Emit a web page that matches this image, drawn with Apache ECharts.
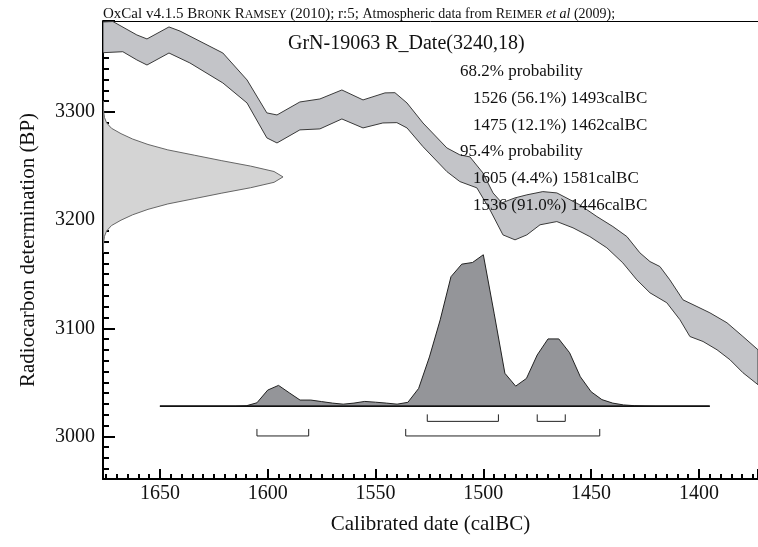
<!DOCTYPE html>
<html>
<head>
<meta charset="utf-8">
<title>GrN-19063 R_Date(3240,18)</title>
<script src="https://cdn.jsdelivr.net/npm/echarts@6.0.0/dist/echarts.min.js"></script>
<style>
html, body { margin: 0; padding: 0; background: #fff; }
#chart { width: 758px; height: 547px; }
</style>
</head>
<body>
<div id="chart"></div>
<script>
// calibration curve band: [calBC, BP]
const curveUpper = [
  [1676.4, 3383.3], [1671.8, 3383.7], [1660.7, 3371.3], [1656.0, 3367.6], [1645.8, 3378.7],
  [1640.7, 3374.9], [1620.8, 3354.6], [1609.6, 3329.7], [1600.4, 3299.2], [1595.7, 3297.3],
  [1585.1, 3309.3], [1575.8, 3312.1], [1565.6, 3320.4], [1555.8, 3311.2], [1545.6, 3317.7],
  [1541.0, 3317.9], [1535.4, 3308.4], [1528.0, 3289.9], [1516.9, 3266.8], [1510.9, 3260.4],
  [1506.2, 3258.5], [1500.2, 3243.7], [1495.5, 3225.2], [1491.4, 3216.0], [1485.3, 3220.6],
  [1479.8, 3223.4], [1472.4, 3226.4], [1465.9, 3225.2], [1455.2, 3214.1], [1447.3, 3203.3],
  [1439.9, 3194.1], [1433.4, 3184.8], [1427.4, 3169.8], [1422.7, 3161.7], [1418.1, 3157.1],
  [1413.5, 3144.8], [1407.4, 3126.3], [1400.9, 3120.1], [1394.9, 3114.3], [1387.0, 3105.1],
  [1379.6, 3092.4], [1372.6, 3080.1]
]
const curveLower = [
  [1676.4, 3354.9], [1667.2, 3355.8], [1660.7, 3348.2], [1656.0, 3343.5], [1645.8, 3354.6],
  [1636.1, 3345.4], [1620.8, 3326.9], [1609.6, 3308.4], [1600.4, 3276.1], [1595.7, 3271.4],
  [1585.1, 3283.5], [1575.8, 3284.4], [1565.6, 3293.6], [1555.8, 3285.3], [1546.6, 3289.9],
  [1540.1, 3290.2], [1535.4, 3285.3], [1528.0, 3268.0], [1516.9, 3244.9], [1510.9, 3235.7],
  [1503.0, 3229.9], [1496.9, 3209.5], [1490.9, 3186.4], [1485.3, 3181.8], [1479.8, 3186.4],
  [1473.7, 3195.7], [1465.9, 3198.7], [1458.4, 3192.9], [1450.6, 3184.8], [1442.7, 3174.4],
  [1435.3, 3160.5], [1428.8, 3144.8], [1422.7, 3132.8], [1414.9, 3123.6], [1408.8, 3107.9],
  [1404.2, 3092.4], [1398.1, 3087.8], [1391.6, 3080.1], [1385.6, 3070.9], [1379.6, 3058.9],
  [1372.6, 3047.8]
]

// R_Date(3240,18): relative probability per BP
const dateBP = [3310, 3305, 3300, 3295, 3290, 3285, 3280, 3275, 3270, 3265, 3260, 3255, 3250, 3245, 3240,
  3235, 3230, 3225, 3220, 3215, 3210, 3205, 3200, 3195, 3190, 3185, 3180, 3175, 3170]
const dateProb = [0.001, 0.002, 0.004, 0.008, 0.02, 0.047, 0.10, 0.165, 0.25, 0.36, 0.51, 0.66, 0.82, 0.95, 1,
  0.95, 0.82, 0.66, 0.51, 0.36, 0.25, 0.165, 0.10, 0.047, 0.02, 0.008, 0.004, 0.002, 0.001]

// calibrated date: relative probability, 5 yr steps
const calYears = [1650, 1615, 1610, 1605, 1600, 1595, 1590, 1585, 1580, 1575, 1570, 1565, 1560, 1555, 1550,
  1545, 1540, 1535, 1530, 1525, 1520, 1515, 1510, 1505, 1500, 1495, 1490, 1485, 1480, 1475, 1470,
  1465, 1460, 1455, 1450, 1445, 1440, 1435, 1430, 1425, 1420, 1395]
const calProb = [0, 0, 0.002, 0.022, 0.106, 0.137, 0.088, 0.04, 0.04, 0.03, 0.02, 0.013, 0.02, 0.031, 0.026,
  0.02, 0.013, 0.025, 0.117, 0.325, 0.57, 0.855, 0.938, 0.949, 1.0, 0.614, 0.217, 0.132, 0.183, 0.338, 0.444,
  0.444, 0.353, 0.194, 0.095, 0.043, 0.02, 0.008, 0.003, 0.001, 0, 0]

// ranges: [from, to, percent]
const range68 = [[1526, 1493, 56.1], [1475, 1462, 12.1]]
const range95 = [[1605, 1581, 4.4], [1536, 1446, 91.0]]

const X_MIN = 1372.6, X_MAX = 1676.4
const Y_MIN = 2960.6, Y_MAX = 3384.2
const CAL_BASE = 3028    // baseline of calibrated distribution (BP units)
const CAL_HEIGHT = 140   // peak height of calibrated distribution
const DATE_WIDTH = 83.5  // peak width of the radiocarbon date (years)
const FONT = 'Liberation Serif'

const myChart = echarts.init(document.getElementById('chart'))

function polygon(points, fill, stroke) {
  return {
    type: 'custom',
    silent: true,
    clip: true,
    data: [points[0]],
    renderItem: function (params, api) {
      return {
        type: 'polygon',
        shape: { points: points.map(p => api.coord(p)) },
        style: { fill: fill, stroke: stroke, lineWidth: 1 }
      }
    }
  }
}

function brackets(ranges, level, tick) {
  return {
    type: 'custom',
    silent: true,
    encode: { x: [0, 1], y: 2 },
    data: ranges.map(r => [r[0], r[1], level]),
    renderItem: function (params, api) {
      const a = api.coord([api.value(0), api.value(2)])
      const b = api.coord([api.value(1), api.value(2)])
      return {
        type: 'polyline',
        shape: { points: [[a[0], a[1] - tick], a, b, [b[0], b[1] - tick]] },
        style: { fill: null, stroke: '#222', lineWidth: 1 }
      }
    }
  }
}

const band = curveUpper.concat(curveLower.slice().reverse())
const datePoly = dateBP.map((bp, i) => [X_MAX - dateProb[i] * DATE_WIDTH, bp])
const calPoly = calYears.map((y, i) => [y, CAL_BASE + calProb[i] * CAL_HEIGHT])

// texts in the upper right
const lines = []
lines.push({ text: '68.2% probability', left: 460 })
range68.forEach(r => lines.push({ text: `${r[0]} (${r[2].toFixed(1)}%) ${r[1]}calBC`, left: 473 }))
lines.push({ text: '95.4% probability', left: 460 })
range95.forEach(r => lines.push({ text: `${r[0]} (${r[2].toFixed(1)}%) ${r[1]}calBC`, left: 473 }))

const titles = [{
  text: '{b|OxCal v4.1.5 B}{sc|RONK} {b|R}{sc|AMSEY} {b|(2010); r:5;} Atmospheric data from R{sc|EIMER} {it|et al} (2009);',
  left: 103, top: 7, padding: 0,
  textStyle: {
    fontFamily: FONT, fontSize: 14, fontWeight: 'normal', color: '#111',
    rich: {
      b: { fontFamily: FONT, fontSize: 15, color: '#111' },
      sc: { fontFamily: FONT, fontSize: 12, color: '#111' },
      it: { fontFamily: FONT, fontSize: 14, fontStyle: 'italic', color: '#111' }
    }
  }
}, {
  text: 'GrN-19063 R_Date(3240,18)',
  left: 288, top: 34, padding: 0,
  textStyle: { fontFamily: FONT, fontSize: 20, fontWeight: 'normal', color: '#111' }
}]
lines.forEach((l, i) => {
  titles.push({
    text: l.text, left: l.left, top: 63 + i * 26.8, padding: 0,
    textStyle: { fontFamily: FONT, fontSize: 17, fontWeight: 'normal', color: '#111' }
  })
})

myChart.setOption({
  animation: false,
  backgroundColor: '#fff',
  title: titles,
  grid: { left: 103, right: 0, top: 21, bottom: 68 },
  xAxis: [{
    type: 'value',
    inverse: true,
    min: X_MIN,
    max: X_MAX,
    minInterval: 50,
    maxInterval: 50,
    name: 'Calibrated date (calBC)',
    nameLocation: 'middle',
    nameGap: 35,
    nameTextStyle: { fontFamily: FONT, fontSize: 21, color: '#111' },
    axisLine: { lineStyle: { color: '#000', width: 2 } },
    axisTick: { inside: true, length: 10, lineStyle: { color: '#000', width: 2 } },
    minorTick: { show: true, splitNumber: 10, length: 5, lineStyle: { color: '#000', width: 2 } },
    axisLabel: {
      margin: 5, fontFamily: FONT, fontSize: 20, color: '#111',
      showMinLabel: false, showMaxLabel: false,
      formatter: v => (v % 50 === 0 ? String(v) : '')
    },
    splitLine: { show: false }
  }, {
    // thin rule under the header
    type: 'value',
    position: 'top',
    inverse: true,
    min: X_MIN,
    max: X_MAX,
    axisLine: { lineStyle: { color: '#000', width: 1 } },
    axisTick: { show: false },
    axisLabel: { show: false },
    splitLine: { show: false }
  }],
  yAxis: {
    type: 'value',
    min: Y_MIN,
    max: Y_MAX,
    minInterval: 100,
    maxInterval: 100,
    name: 'Radiocarbon determination (BP)',
    nameLocation: 'middle',
    nameGap: 64,
    nameTextStyle: { fontFamily: FONT, fontSize: 21, color: '#111' },
    axisLine: { show: true, lineStyle: { color: '#000', width: 2 } },
    axisTick: { show: true, inside: true, length: 12, lineStyle: { color: '#000', width: 2 } },
    minorTick: { show: true, splitNumber: 10, length: 6, lineStyle: { color: '#000', width: 2 } },
    axisLabel: {
      margin: 8, fontFamily: FONT, fontSize: 20, color: '#111',
      showMinLabel: false, showMaxLabel: false,
      formatter: v => (v % 100 === 0 ? String(v) : '')
    },
    splitLine: { show: false }
  },
  series: [
    polygon(band, '#c3c4c8', '#3a3a3a'),
    polygon(datePoly, '#d4d4d4', '#666'),
    polygon(calPoly, '#949599', '#222'),
    {
      // baseline of the calibrated distribution
      type: 'line',
      silent: true,
      symbol: 'none',
      data: [[calYears[0], CAL_BASE], [calYears[calYears.length - 1], CAL_BASE]],
      lineStyle: { color: '#111', width: 1.5 }
    },
    brackets(range68, 3013.9, 7),
    brackets(range95, 3000.4, 7)
  ]
})

window.addEventListener('resize', function () {
  myChart.resize()
})
</script>
</body>
</html>
